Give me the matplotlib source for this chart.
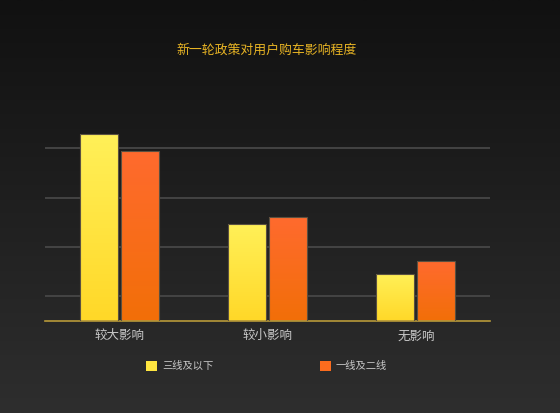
import numpy as np
import matplotlib
matplotlib.use('Agg')
import matplotlib.pyplot as plt
from matplotlib.colors import LinearSegmentedColormap
from matplotlib.patches import Rectangle

plt.rcParams['font.family'] = ['Noto Sans CJK SC', 'DejaVu Sans']

# data (percent)
categories = ['较大影响', '较小影响', '无影响']
series_names = ['三线及以下', '一线及二线']
low_tier = [56.4, 29.4, 14.3]
high_tier = [51.4, 31.4, 18.1]
grid_vals = [7.5, 22.4, 37.3, 52.2]
title = '新一轮政策对用户购车影响程度'

yellow_grad = LinearSegmentedColormap.from_list('yel', ['#ffd828', '#fff058'])
orange_grad = LinearSegmentedColormap.from_list('ora', ['#f26f08', '#ff6a2e'])
bg_grad = LinearSegmentedColormap.from_list('bg', ['#2e2e2e', '#111111'])

fig = plt.figure(figsize=(5.6, 4.13), dpi=100)

# background gradient
bg = fig.add_axes([0, 0, 1, 1], zorder=-5)
bg.imshow(np.linspace(0, 1, 256).reshape(-1, 1), cmap=bg_grad, aspect='auto',
          origin='lower', extent=[0, 1, 0, 1])
bg.axis('off')

ax = fig.add_axes([45/560, 92/413, 445/560, 231.7/413])
ax.patch.set_alpha(0)
x = np.arange(len(categories))
w = 0.256
off = 0.138
ymax = 70

grad = np.linspace(0, 1, 100).reshape(-1, 1)
for vals, shift, cmap in [(low_tier, -off, yellow_grad), (high_tier, off, orange_grad)]:
    bars = ax.bar(x + shift, vals, w, color='none', edgecolor='#5a5040', linewidth=0.8, zorder=3)
    for b in bars:
        x0 = b.get_x()
        im = ax.imshow(grad, cmap=cmap, aspect='auto', origin='lower',
                       extent=[x0, x0 + b.get_width(), 0, b.get_height()], zorder=2)
        im.set_clip_path(b)
ax.set_xlim(-0.5, len(categories) - 0.5)
ax.set_ylim(0, ymax)

ax.set_yticks(grid_vals)
ax.yaxis.grid(True, color='#4a4a4a', linewidth=1.2, zorder=1)
ax.tick_params(axis='y', length=0, labelleft=False)
ax.set_xticks(x)
ax.set_xticklabels(categories, color='#c8c8c8', fontsize=9)
ax.tick_params(axis='x', length=0, pad=6)
for s in ['top', 'right', 'left']:
    ax.spines[s].set_visible(False)
ax.spines['bottom'].set_color('#b89a3a')
ax.spines['bottom'].set_linewidth(1.2)

fig.text(267/560, 1 - 50/413, title, color='#e8b424', fontsize=9.3,
         ha='center', va='center')

# legend
for name, col, sx in [(series_names[0], '#ffe640', 146), (series_names[1], '#fb6c1e', 320)]:
    fig.patches.append(Rectangle((sx/560, 1 - 371/413), 10.5/560, 10.5/413,
                                 transform=fig.transFigure, facecolor=col,
                                 edgecolor='none', figure=fig))
    fig.text((sx + 16)/560, 1 - 365.5/413, name, color='#c8c8c8', fontsize=7.4,
             ha='left', va='center')

fig.savefig('out.png', dpi=100)
